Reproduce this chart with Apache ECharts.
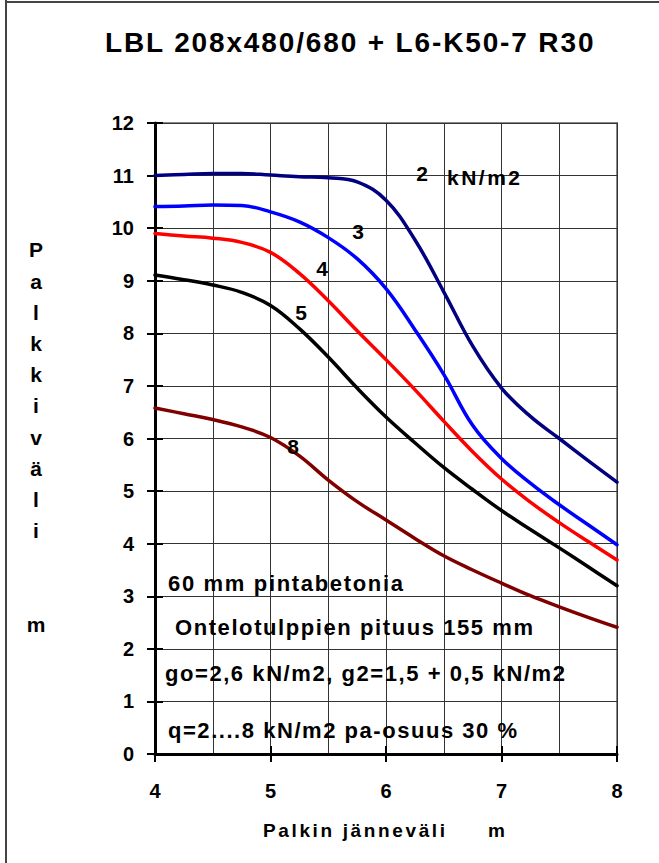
<!DOCTYPE html>
<html>
<head>
<meta charset="utf-8">
<script src="https://cdn.jsdelivr.net/npm/echarts@6/dist/echarts.min.js"></script>
<style>
  html, body { margin: 0; padding: 0; background: #fff; }
  #chart { width: 659px; height: 863px; }
  #chart text { white-space: pre; }
</style>
</head>
<body>
<div id="chart"></div>
<script>
// ---- data ----
const spans = [4.0, 4.25, 4.5, 4.75, 5.0, 5.25, 5.5, 5.75, 6.0, 6.25, 6.5, 6.75, 7.0, 7.25, 7.5, 7.75, 8.0];
const load2 = [11.0, 11.02, 11.04, 11.04, 11.01, 10.98, 10.96, 10.88, 10.53, 9.78, 8.79, 7.76, 6.96, 6.42, 6.0, 5.58, 5.17];
const load3 = [10.41, 10.42, 10.44, 10.43, 10.31, 10.12, 9.82, 9.42, 8.85, 8.07, 7.22, 6.25, 5.62, 5.15, 4.74, 4.36, 3.98];
const load4 = [9.9, 9.85, 9.81, 9.73, 9.54, 9.14, 8.62, 8.05, 7.5, 6.93, 6.33, 5.75, 5.23, 4.79, 4.40, 4.04, 3.69];
const load5 = [9.11, 9.02, 8.92, 8.78, 8.53, 8.09, 7.55, 6.96, 6.41, 5.92, 5.45, 5.03, 4.63, 4.27, 3.92, 3.56, 3.2];
const load8 = [6.58, 6.47, 6.36, 6.22, 6.02, 5.67, 5.21, 4.8, 4.45, 4.1, 3.77, 3.5, 3.25, 3.01, 2.8, 2.6, 2.41];
const loadNames = ['2', '3', '4', '5', '8'];
const xTicks = [4, 5, 6, 7, 8];
const yTicks = [0, 1, 2, 3, 4, 5, 6, 7, 8, 9, 10, 11, 12];

const titleText = 'LBL 208x480/680 + L6-K50-7 R30';
const xName = 'Palkin jänneväli';
const xUnit = 'm';
const yNameLetters = ['P', 'a', 'l', 'k', 'k', 'i', 'v', 'ä', 'l', 'i', '', '', 'm'];
const notes = [
  '60 mm pintabetonia',
  'Ontelotulppien pituus 155 mm',
  'go=2,6 kN/m2, g2=1,5 + 0,5 kN/m2',
  'q=2....8 kN/m2 pa-osuus 30 %'
];
const unitLabel = 'kN/m2';

// ---- styling ----
const FAM = '"Liberation Sans", Arial, Helvetica, sans-serif';
const colors = ['#000080', '#0000ff', '#ff0000', '#000000', '#800000'];
const seriesValues = [load2, load3, load4, load5, load8];

const mctx = document.createElement('canvas').getContext('2d');
function natural(text, size) {
  mctx.font = 'bold ' + size + 'px ' + FAM;
  return mctx.measureText(text).width;
}
const spacingMap = {};
function spaced(text, size, target) {
  const n = Math.max(1, text.length - 1);
  spacingMap[text] = (target - natural(text, size)) / n;
}

const G = [];
function txt(text, x, y, size, align, target) {
  if (target) spaced(text, size, target);
  G.push({
    type: 'text', x: x, y: y, z: 100,
    style: { text: text, fill: '#000', font: 'bold ' + size + 'px ' + FAM,
             textAlign: align || 'left', textVerticalAlign: 'middle' }
  });
}
// frame lines
G.push({ type: 'line', shape: { x1: 6, y1: 0, x2: 6, y2: 863 }, style: { stroke: '#444', lineWidth: 2 } });
G.push({ type: 'line', shape: { x1: 5, y1: 2, x2: 659, y2: 2 }, style: { stroke: '#444', lineWidth: 2 } });

txt(titleText, 105, 42, 28, 'left', 489);
txt(notes[0], 168, 583, 22, 'left', 235);
txt(notes[1], 175, 627, 22, 'left', 358);
txt(notes[2], 165, 673, 22, 'left', 400);
txt(notes[3], 168, 730, 22, 'left', 349);
txt(xName, 263, 830, 19, 'left', 182);
txt(xUnit, 488, 830, 19, 'left');
// curve labels
txt(loadNames[0], 422, 173, 21, 'center');
txt(unitLabel, 447, 177, 21, 'left', 73);
txt(loadNames[1], 358, 231, 21, 'center');
txt(loadNames[2], 322, 268, 21, 'center');
txt(loadNames[3], 301, 312, 21, 'center');
txt(loadNames[4], 293, 446, 21, 'center');
// vertical y-axis name
G.push({
  type: 'text', x: 36, y: 250 - 15.6, z: 100,
  style: { text: yNameLetters.join('\n'), fill: '#000', font: 'bold 21px ' + FAM,
           textAlign: 'center', textVerticalAlign: 'top', lineHeight: 31.2 }
});

const chart = echarts.init(document.getElementById('chart'), null, { renderer: 'svg' });

const axisLabelStyle = { color: '#000', fontFamily: FAM, fontWeight: 'bold', fontSize: 20 };
const option = {
  animation: false,
  backgroundColor: '#fff',
  grid: { left: 155, right: 42, top: 123, bottom: 109, show: true,
          borderColor: '#888', borderWidth: 2, backgroundColor: 'transparent' },
  xAxis: [
    { type: 'value', min: xTicks[0], max: xTicks[xTicks.length - 1], interval: 1, position: 'bottom',
      axisLine: { show: true, onZero: false, lineStyle: { color: '#000', width: 3 } },
      axisTick: { show: true, length: 8, lineStyle: { color: '#000', width: 2 } },
      axisLabel: Object.assign({ margin: 27 }, axisLabelStyle),
      splitLine: { show: true, lineStyle: { color: '#333', width: 1 } },
      minorTick: { show: false, splitNumber: 2 },
      minorSplitLine: { show: true, lineStyle: { color: '#333', width: 1 } } },
    { type: 'value', min: xTicks[0], max: xTicks[xTicks.length - 1], interval: 1, position: 'bottom',
      axisLine: { show: false, onZero: false },
      axisTick: { show: true, inside: true, length: 8, lineStyle: { color: '#000', width: 2 } },
      axisLabel: { show: false }, splitLine: { show: false } }
  ],
  yAxis: [
    { type: 'value', min: yTicks[0], max: yTicks[yTicks.length - 1], interval: 1, position: 'left',
      axisLine: { show: true, onZero: false, lineStyle: { color: '#000', width: 3 } },
      axisTick: { show: true, length: 8, lineStyle: { color: '#000', width: 2 } },
      axisLabel: Object.assign({ margin: 21 }, axisLabelStyle),
      splitLine: { show: true, lineStyle: { color: '#333', width: 1 } } },
    { type: 'value', min: yTicks[0], max: yTicks[yTicks.length - 1], interval: 1, position: 'left',
      axisLine: { show: false, onZero: false },
      axisTick: { show: true, inside: true, length: 8, lineStyle: { color: '#000', width: 2 } },
      axisLabel: { show: false }, splitLine: { show: false } }
  ],
  series: seriesValues.map((vals, i) => ({
    name: loadNames[i] + ' kN/m2',
    type: 'line',
    xAxisIndex: 0, yAxisIndex: 0,
    smooth: 0.4,
    showSymbol: false,
    symbol: 'none',
    z: 10,
    lineStyle: { color: colors[i], width: 3.5, join: 'round', cap: 'round' },
    data: spans.map((x, j) => [x, vals[j]])
  })),
  graphic: { elements: G }
};
chart.setOption(option);

function applySpacing() {
  document.querySelectorAll('#chart text').forEach(t => {
    const s = spacingMap[t.textContent];
    if (s != null) t.style.letterSpacing = s.toFixed(2) + 'px';
  });
}
applySpacing();
chart.on('finished', applySpacing);
setTimeout(applySpacing, 50);
setTimeout(applySpacing, 300);
</script>
</body>
</html>
